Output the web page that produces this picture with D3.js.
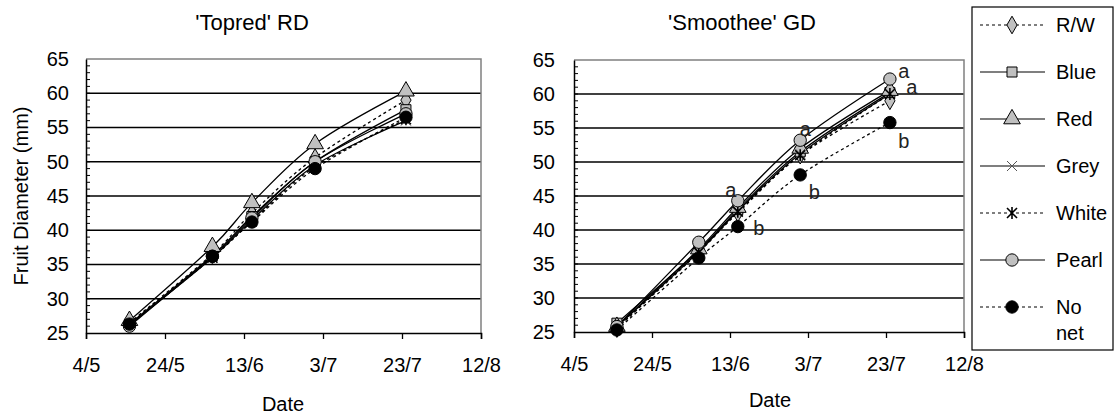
<!DOCTYPE html>
<html lang="en">
<head>
<meta charset="UTF-8">
<title>Fruit diameter</title>
<script src="https://cdnjs.cloudflare.com/ajax/libs/d3/7.8.5/d3.min.js"></script>
<style>
  body { margin: 0; background: #fff; }
  svg { font-family: "Liberation Sans", Arial, sans-serif; }
</style>
</head>
<body>
<div id="chart"></div>
<script>
// sampling dates
var dates = ["2003-05-15", "2003-06-05", "2003-06-15", "2003-07-01", "2003-07-24"];
var tickDates = ["2003-05-04", "2003-05-24", "2003-06-13", "2003-07-03", "2003-07-23", "2003-08-12"];
var tickLabels = ["4/5", "24/5", "13/6", "3/7", "23/7", "12/8"];
var treatments = ["R/W", "Blue", "Red", "Grey", "White", "Pearl", "No net"];

// 'Topred' RD
var topredRW    = [26.5, 36.5, 42.5, 50.6, 59.0];
var topredBlue  = [26.3, 36.3, 42.0, 50.0, 57.6];
var topredRed   = [26.8, 37.6, 44.0, 52.6, 60.3];
var topredGrey  = [26.2, 36.0, 41.5, 49.5, 56.0];
var topredWhite = [26.2, 36.0, 41.3, 49.3, 56.2];
var topredPearl = [26.0, 36.2, 41.8, 50.0, 57.0];
var topredNoNet = [26.3, 36.2, 41.2, 49.0, 56.5];

// 'Smoothee' GD
var smootheeRW    = [25.5, 37.0, 42.5, 51.0, 59.0];
var smootheeBlue  = [26.3, 37.0, 43.0, 51.5, 60.2];
var smootheeRed   = [25.8, 37.2, 43.3, 52.0, 60.5];
var smootheeGrey  = [25.8, 36.8, 42.8, 51.2, 60.0];
var smootheeWhite = [25.6, 36.7, 42.7, 51.0, 60.0];
var smootheePearl = [25.8, 38.2, 44.3, 53.2, 62.2];
var smootheeNoNet = [25.3, 35.9, 40.5, 48.1, 55.8];

// significance letters on the Smoothee panel: [date index, value, letter, dx, dy]
var letters = [
  [2, 44.3, "a", -7, -10],
  [2, 40.5, "b", 21, 2],
  [3, 53.2, "a", 5, -10],
  [3, 48.1, "b", 14, 18],
  [4, 62.2, "a", 14, -7],
  [4, 60.2, "a", 22, -5],
  [4, 55.8, "b", 14, 19]
];

var parse = d3.timeParse("%Y-%m-%d");
var yTicks = [25, 30, 35, 40, 45, 50, 55, 60, 65];

var styles = {
  "R/W":    { dash: "3,3", symbol: d3.symbolDiamond, fill: "#c0c0c0", size: 90 },
  "Blue":   { dash: null,  symbol: d3.symbolSquare,  fill: "#c0c0c0", size: 100 },
  "Red":    { dash: null,  symbol: d3.symbolTriangle, fill: "#c0c0c0", size: 120 },
  "Grey":   { dash: null,  symbol: "x", fill: "none", size: 5 },
  "White":  { dash: "3,3", symbol: "star", fill: "none", size: 5 },
  "Pearl":  { dash: null,  symbol: d3.symbolCircle, fill: "#c0c0c0", size: 120 },
  "No net": { dash: "3,3", symbol: d3.symbolCircle, fill: "#000", size: 120 }
};

var W = 1116, H = 418;
var svg = d3.select("#chart").append("svg").attr("width", W).attr("height", H);

function drawMarker(g, name, x, y) {
  var s = styles[name];
  if (s.symbol === "x" || s.symbol === "star") {
    var r = s.size;
    var p = "M" + (x - r) + "," + (y - r) + "L" + (x + r) + "," + (y + r) +
            "M" + (x - r) + "," + (y + r) + "L" + (x + r) + "," + (y - r);
    if (s.symbol === "star") p += "M" + x + "," + (y - r - 1) + "L" + x + "," + (y + r + 1);
    g.append("path").attr("d", p).attr("stroke", s.symbol === "star" ? "#000" : "#555")
      .attr("stroke-width", s.symbol === "star" ? 1.6 : 1).attr("fill", "none");
  } else {
    g.append("path")
      .attr("d", d3.symbol().type(s.symbol).size(s.size)())
      .attr("transform", "translate(" + x + "," + y + ")")
      .attr("fill", s.fill).attr("stroke", "#000").attr("stroke-width", 1);
  }
}

function panel(opts) {
  var x = d3.scaleTime()
    .domain([parse(tickDates[0]), parse(tickDates[tickDates.length - 1])])
    .range([opts.left, opts.right]);
  var y = d3.scaleLinear().domain([25, 65]).range([opts.bottom, opts.top]);
  var g = svg.append("g");

  // gridlines
  g.selectAll(".grid").data(yTicks.slice(1, -1)).enter().append("line")
    .attr("x1", opts.left).attr("x2", opts.right)
    .attr("y1", function(d) { return y(d); }).attr("y2", function(d) { return y(d); })
    .attr("stroke", "#000").attr("stroke-width", 1.3);

  // plot frame top/right
  g.append("path")
    .attr("d", "M" + opts.left + "," + opts.top + "H" + opts.right + "V" + opts.bottom)
    .attr("fill", "none").attr("stroke", "#808080").attr("stroke-width", 1.5);

  // y axis with minor ticks inside
  var yAxis = d3.axisLeft(y).tickValues(yTicks).tickSize(0).tickPadding(opts.yPad);
  var ya = g.append("g").attr("transform", "translate(" + opts.left + ",0)").call(yAxis);
  ya.select(".domain").attr("stroke", "#000").attr("stroke-width", 1.5);
  ya.selectAll("text").attr("font-size", 20).attr("fill", "#000")
    .attr("font-family", "Liberation Sans, Arial, sans-serif");
  g.selectAll(".minor").data(d3.range(26, 65)).enter().append("line")
    .attr("x1", opts.left).attr("x2", opts.left + 4)
    .attr("y1", function(d) { return y(d); }).attr("y2", function(d) { return y(d); })
    .attr("stroke", "#000").attr("stroke-width", 1);

  // x axis
  var xAxis = d3.axisBottom(x).tickValues(tickDates.map(parse))
    .tickFormat(function(d, i) { return tickLabels[i]; })
    .tickSize(6).tickSizeOuter(6).tickPadding(19);
  var xa = g.append("g").attr("transform", "translate(0," + opts.bottom + ")").call(xAxis);
  xa.select(".domain").attr("stroke", "#000").attr("stroke-width", 1.5);
  xa.selectAll(".tick line").attr("stroke", "#000").attr("stroke-width", 1.3);
  xa.selectAll("text").attr("font-size", 20).attr("fill", "#000")
    .attr("font-family", "Liberation Sans, Arial, sans-serif");

  // lines
  var line = d3.line()
    .x(function(d) { return x(d[0]); })
    .y(function(d) { return y(d[1]); })
    .curve(d3.curveCardinal.tension(0));
  treatments.forEach(function(name, k) {
    var vals = opts.series[k];
    var pts = dates.map(function(d, i) { return [parse(d), vals[i]]; });
    g.append("path").datum(pts).attr("d", line)
      .attr("fill", "none").attr("stroke", "#000").attr("stroke-width", 1.3)
      .attr("stroke-dasharray", styles[name].dash);
  });
  treatments.forEach(function(name, k) {
    var vals = opts.series[k];
    dates.forEach(function(d, i) { drawMarker(g, name, x(parse(d)), y(vals[i])); });
  });

  // titles
  svg.append("text").attr("x", opts.titleX).attr("y", 30).attr("text-anchor", "middle")
    .attr("font-size", 22).text(opts.title);
  svg.append("text").attr("x", opts.dateX).attr("y", opts.dateY)
    .attr("text-anchor", "middle").attr("font-size", 20).text("Date");

  if (opts.letters) {
    opts.letters.forEach(function(l) {
      g.append("text").attr("x", x(parse(dates[l[0]])) + l[3]).attr("y", y(l[1]) + l[4] + 6)
        .attr("text-anchor", "middle").attr("font-size", 20).attr("fill", "#222").text(l[2]);
    });
  }
}

panel({
  left: 86, right: 481, top: 59, bottom: 333, yPad: 17, titleX: 252, dateX: 283, dateY: 411,
  title: "'Topred' RD",
  series: [topredRW, topredBlue, topredRed, topredGrey, topredWhite, topredPearl, topredNoNet]
});
panel({
  left: 574, right: 964, top: 60, bottom: 332, yPad: 19, titleX: 742, dateX: 770, dateY: 407,
  title: "'Smoothee' GD",
  series: [smootheeRW, smootheeBlue, smootheeRed, smootheeGrey, smootheeWhite, smootheePearl, smootheeNoNet],
  letters: letters
});

// y label
svg.append("text").attr("transform", "translate(28,196) rotate(-90)")
  .attr("text-anchor", "middle").attr("font-size", 20).text("Fruit  Diameter (mm)");

// legend
var lg = svg.append("g");
lg.append("rect").attr("x", 972).attr("y", 7).attr("width", 141).attr("height", 343)
  .attr("fill", "#fff").attr("stroke", "#000").attr("stroke-width", 1.2);
var legendY = d3.scalePoint().domain(treatments).range([25, 307]);
treatments.forEach(function(name) {
  var ly = legendY(name);
  lg.append("line").attr("x1", 980).attr("x2", 1045).attr("y1", ly).attr("y2", ly)
    .attr("stroke", "#000").attr("stroke-width", 1.2).attr("stroke-dasharray", styles[name].dash);
  drawMarker(lg, name, 1012, ly);
  if (name === "No net") {
    lg.append("text").attr("x", 1056).attr("y", ly + 7).attr("font-size", 20).text("No");
    lg.append("text").attr("x", 1056).attr("y", ly + 33).attr("font-size", 20).text("net");
  } else {
    lg.append("text").attr("x", 1056).attr("y", ly + 7).attr("font-size", 20).text(name);
  }
});
</script>
</body>
</html>
